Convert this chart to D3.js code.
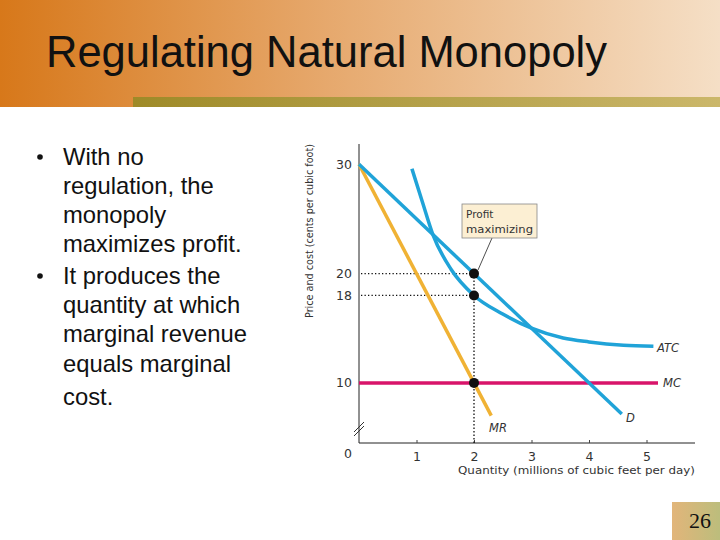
<!DOCTYPE html>
<html>
<head>
<meta charset="utf-8">
<script src="https://cdn.jsdelivr.net/npm/d3@7"></script>
<style>
  body { margin: 0; background: #fff; }
  svg { display: block; }
</style>
</head>
<body>
<div id="slide"></div>
<script>
// Slide text
const slideTitle = "Regulating Natural Monopoly";
const bulletLines = [
  ["With no", "regulation, the", "monopoly", "maximizes profit."],
  ["It produces the", "quantity at which", "marginal revenue", "equals marginal", "cost."]
];
const slideNumber = "26";

// Chart data (quantity in millions of cubic feet/day, price in cents)
const xTickValues = [1, 2, 3, 4, 5];
const yTickValues = [30, 20, 18, 10];
const demandPts = [[0, 30], [4.57, 7.15]];
const mrPts = [[0, 30], [2.3, 7]];
const mcPts = [[0, 10], [5.2, 10]];
const atcPts = [[0.92, 29.6], [1.1, 26.6], [1.29, 23.5], [1.6, 20.4], [2, 18], [2.5, 16.3],
                [3, 15], [3.55, 14.1], [4, 13.75], [4.6, 13.45], [5.12, 13.35]];
const keyPts = [[2, 20], [2, 18], [2, 10]];
const yAxisBreak = 4.5;

const width = 720, height = 540;

const svg = d3.select("#slide").append("svg")
    .attr("width", width)
    .attr("height", height);

const defs = svg.append("defs");

// header gradient
const hg = defs.append("linearGradient").attr("id", "headGrad");
hg.append("stop").attr("offset", "0%").attr("stop-color", "#d7781a");
hg.append("stop").attr("offset", "45%").attr("stop-color", "#e6a86c");
hg.append("stop").attr("offset", "100%").attr("stop-color", "#f5dfc6");

const sg = defs.append("linearGradient").attr("id", "stripGrad");
sg.append("stop").attr("offset", "0%").attr("stop-color", "#9e8a28");
sg.append("stop").attr("offset", "100%").attr("stop-color", "#cbb76a");

const ng = defs.append("linearGradient").attr("id", "numGrad");
ng.append("stop").attr("offset", "0%").attr("stop-color", "#e2b57a");
ng.append("stop").attr("offset", "100%").attr("stop-color", "#bcbd7c");

svg.append("rect").attr("x", 0).attr("y", 0).attr("width", width).attr("height", 107)
    .attr("fill", "url(#headGrad)");
svg.append("rect").attr("x", 133).attr("y", 97).attr("width", width - 133).attr("height", 10)
    .attr("fill", "url(#stripGrad)");

svg.append("text")
    .attr("x", 46).attr("y", 67)
    .attr("font-family", "Liberation Sans, Arial, sans-serif")
    .attr("font-size", 43.5)
    .attr("fill", "#111")
    .text(slideTitle);

// bullets
const bulletBaselines = [[165, 194, 223, 252], [284, 313, 342, 372, 405]];
bulletLines.forEach((lines, i) => {
  svg.append("circle")
      .attr("cx", 40).attr("cy", bulletBaselines[i][0] - 8).attr("r", 2.8)
      .attr("fill", "#111");
  lines.forEach((ln, j) => {
    svg.append("text")
        .attr("x", 63).attr("y", bulletBaselines[i][j])
        .attr("font-family", "Liberation Sans, Arial, sans-serif")
        .attr("font-size", 23.8)
        .attr("fill", "#111")
        .text(ln);
  });
});

// slide number box
svg.append("rect").attr("x", 672).attr("y", 502).attr("width", 48).attr("height", 38)
    .attr("fill", "url(#numGrad)");
svg.append("text")
    .attr("x", 700).attr("y", 528)
    .attr("text-anchor", "middle")
    .attr("font-family", "Liberation Serif, Times New Roman, serif")
    .attr("font-size", 22)
    .attr("fill", "#111")
    .text(slideNumber);

// ---------------- chart ----------------
const x = d3.scaleLinear().domain([0, 5]).range([359, 646.5]);
const y = d3.scaleLinear().domain([yAxisBreak, 30]).range([443, 164.3]);

const chartFont = "DejaVu Sans, sans-serif";
const blue = "#20a3d8", orange = "#f0b234", magenta = "#d8146a";

const g = svg.append("g");

// axes
const xAxis = g.append("g").attr("transform", `translate(0,${y(yAxisBreak)})`)
    .call(d3.axisBottom(x).tickValues(xTickValues).tickSize(-3).tickPadding(6).tickFormat(d3.format("d")));
xAxis.select(".domain").attr("d", `M${x(0)},0H695`).attr("stroke", "#222");
xAxis.selectAll(".tick line").attr("stroke", "#444");
xAxis.selectAll(".tick text").attr("font-family", chartFont).attr("font-size", 12.5).attr("fill", "#333")
    .attr("dy", "0.95em");

const yAxis = g.append("g").attr("transform", `translate(${x(0)},0)`)
    .call(d3.axisLeft(y).tickValues(yTickValues).tickSize(0).tickPadding(7));
yAxis.select(".domain").attr("d", `M0,144V${y(yAxisBreak)}`).attr("stroke", "#222");
yAxis.selectAll(".tick text").attr("font-family", chartFont).attr("font-size", 12.5).attr("fill", "#333");

// origin label and axis break
g.append("text").attr("x", 348).attr("y", 458).attr("text-anchor", "middle")
    .attr("font-family", chartFont).attr("font-size", 12.5).attr("fill", "#333").text("0");
[0, 4].forEach(off => {
  g.append("line")
      .attr("x1", x(0) - 5).attr("y1", 436 - off)
      .attr("x2", x(0) + 5).attr("y2", 426 - off)
      .attr("stroke", "#333").attr("stroke-width", 1);
});

// axis titles
g.append("text")
    .attr("x", 695).attr("y", 474).attr("text-anchor", "end")
    .attr("font-family", chartFont).attr("font-size", 11).attr("fill", "#333")
    .attr("textLength", 237).attr("lengthAdjust", "spacingAndGlyphs")
    .text("Quantity (millions of cubic feet per day)");
g.append("text")
    .attr("transform", "translate(313,231) rotate(-90)")
    .attr("text-anchor", "middle")
    .attr("font-family", chartFont).attr("font-size", 10.5).attr("fill", "#333")
    .attr("textLength", 174).attr("lengthAdjust", "spacingAndGlyphs")
    .text("Price and cost (cents per cubic foot)");

// dotted guide lines
const guide = { stroke: "#111", "stroke-width": 1.3, "stroke-dasharray": "1.3,2.2" };
function dotted(x1, y1, x2, y2) {
  const l = g.append("line").attr("x1", x1).attr("y1", y1).attr("x2", x2).attr("y2", y2);
  Object.entries(guide).forEach(([k, v]) => l.attr(k, v));
}
dotted(x(0) + 2, y(20), x(2), y(20));
dotted(x(0) + 2, y(18), x(2), y(18));
dotted(x(2), y(20), x(2), y(yAxisBreak));

// curves
const line = d3.line().x(d => x(d[0])).y(d => y(d[1]));
const smooth = d3.line().x(d => x(d[0])).y(d => y(d[1])).curve(d3.curveMonotoneX);

g.append("path").datum(mcPts).attr("d", line)
    .attr("fill", "none").attr("stroke", magenta).attr("stroke-width", 3.5);
g.append("path").datum(mrPts).attr("d", line)
    .attr("fill", "none").attr("stroke", orange).attr("stroke-width", 3.5);
g.append("path").datum(demandPts).attr("d", line)
    .attr("fill", "none").attr("stroke", blue).attr("stroke-width", 3.5);
g.append("path").datum(atcPts).attr("d", smooth)
    .attr("fill", "none").attr("stroke", blue).attr("stroke-width", 3.5);

// key points
g.selectAll(".kp").data(keyPts).enter().append("circle")
    .attr("cx", d => x(d[0])).attr("cy", d => y(d[1])).attr("r", 5)
    .attr("fill", "#111");

// curve labels
const labels = [
  { t: "ATC", x: 657, y: 352 },
  { t: "MC", x: 663, y: 387 },
  { t: "D", x: 626, y: 422 },
  { t: "MR", x: 489, y: 432 }
];
g.selectAll(".lbl").data(labels).enter().append("text")
    .attr("x", d => d.x).attr("y", d => d.y)
    .attr("font-family", chartFont).attr("font-size", 11.5).attr("font-style", "italic")
    .attr("fill", "#333")
    .text(d => d.t);

// annotation box
g.append("line").attr("x1", 492).attr("y1", 238).attr("x2", 478).attr("y2", 270)
    .attr("stroke", "#222").attr("stroke-width", 0.8);
g.append("rect").attr("x", 462).attr("y", 204).attr("width", 75).attr("height", 34)
    .attr("fill", "#fcefd3").attr("stroke", "#888").attr("stroke-width", 0.8);
g.append("text").attr("x", 466).attr("y", 218)
    .attr("font-family", chartFont).attr("font-size", 10.5).attr("fill", "#333").text("Profit");
g.append("text").attr("x", 466).attr("y", 233)
    .attr("font-family", chartFont).attr("font-size", 10.5).attr("fill", "#333")
    .attr("textLength", 67).attr("lengthAdjust", "spacingAndGlyphs").text("maximizing");
</script>
</body>
</html>
